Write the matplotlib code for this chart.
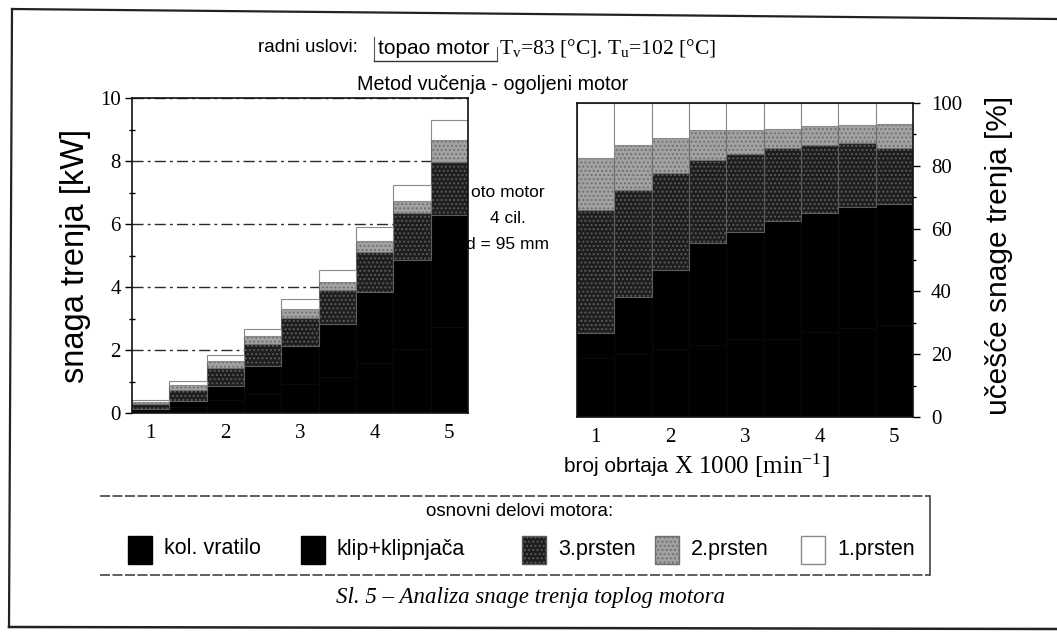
import matplotlib
matplotlib.use('Agg')
import matplotlib.pyplot as plt
import numpy as np
from matplotlib.patches import Rectangle
from matplotlib.lines import Line2D
from matplotlib.ticker import MultipleLocator

plt.rcParams['mathtext.fontset'] = 'custom'
plt.rcParams['mathtext.rm'] = 'Liberation Serif'
plt.rcParams['mathtext.it'] = 'Liberation Serif:italic'
plt.rcParams['hatch.linewidth'] = 0.9

SANS = 'Liberation Sans'
SERIF = 'Liberation Serif'

# ---------------- data ----------------
rpm = [1.0, 1.5, 2.0, 2.5, 3.0, 3.5, 4.0, 4.5, 5.0]          # x 1000 min^-1
total_kw = [0.42, 1.02, 1.85, 2.68, 3.62, 4.55, 5.9, 7.25, 9.3]  # total friction power [kW]

categories = ['kol. vratilo', 'klip+klipnjača', '3.prsten', '2.prsten', '1.prsten']
share_kol = [18.7, 20.0, 21.5, 22.9, 25.0, 25.0, 27.0, 28.2, 29.3]
share_klip = [7.9, 18.3, 25.3, 32.4, 34.0, 37.4, 37.9, 38.8, 38.4]
share_p3 = [39.3, 34.0, 30.8, 26.5, 24.7, 23.2, 21.7, 20.4, 17.9]
share_p2 = [16.5, 14.3, 11.2, 9.6, 7.7, 6.0, 6.1, 5.6, 7.6]
share_p1 = [17.6, 13.4, 11.2, 8.6, 8.6, 8.4, 7.3, 7.0, 6.8]
shares = [share_kol, share_klip, share_p3, share_p2, share_p1]

left_ticks = [0, 2, 4, 6, 8, 10]
right_ticks = [0, 20, 40, 60, 80, 100]
x_ticks = [1, 2, 3, 4, 5]

# ---------------- styles ----------------
faces = ['#000000', '#000000', '#1e1e1e', '#a2a2a2', '#ffffff']
edges = ['#0a0a0a', '#0a0a0a', '#5c5c5c', '#6e6e6e', '#8a8a8a']
hatches = [None, None, '....', '....', None]

W, H = 1057, 632
fig = plt.figure(figsize=(W / 100, H / 100), dpi=100)
fig.patch.set_facecolor('white')


def fx(p):
    return p / W


def fy(p):
    return 1 - p / H


def fline(xs, ys, **kw):
    fig.add_artist(Line2D([fx(v) for v in xs], [fy(v) for v in ys],
                          transform=fig.transFigure, **kw))


axL = fig.add_axes([fx(132), fy(413), (468 - 132) / W, (413 - 98) / H])
axR = fig.add_axes([fx(577), fy(417), (913 - 577) / W, (417 - 103) / H])

botL = np.zeros(len(rpm))
botR = np.zeros(len(rpm))
tot = np.array(total_kw)
for i, (name, sh) in enumerate(zip(categories, shares)):
    sh = np.array(sh)
    kw = tot * sh / 100.0
    axL.bar(rpm, kw, width=0.5, bottom=botL, color=faces[i], edgecolor=edges[i],
            hatch=hatches[i], linewidth=0.8, zorder=3)
    axR.bar(rpm, sh, width=0.5, bottom=botR, color=faces[i], edgecolor=edges[i],
            hatch=hatches[i], linewidth=0.8, zorder=3)
    botL += kw
    botR += sh

# left axes
axL.set_xlim(0.75, 5.25)
axL.set_ylim(0, 10)
axL.set_yticks(left_ticks)
axL.yaxis.set_minor_locator(MultipleLocator(1))
axL.set_xticks(x_ticks)
axL.yaxis.grid(True, which='major', linestyle=(0, (8, 3, 2, 3)), color='#2a2a2a', linewidth=1.0, zorder=0)
axL.set_axisbelow(True)
axL.tick_params(axis='y', which='major', direction='out', length=5, width=1.0, labelsize=15, pad=3)
axL.tick_params(axis='y', which='minor', direction='inout', length=5, width=1.0)
axL.tick_params(axis='x', length=0, labelsize=15, pad=8)
for lab in axL.get_xticklabels() + axL.get_yticklabels():
    lab.set_fontfamily(SERIF)
axL.set_ylabel('snaga trenja [kW]', fontsize=23.5, fontfamily=SANS)
axL.yaxis.set_label_coords(-0.122, 0.5)

# right axes
axR.set_xlim(0.75, 5.25)
axR.set_ylim(0, 100)
axR.set_yticks(right_ticks)
axR.yaxis.set_minor_locator(MultipleLocator(10))
axR.set_xticks(x_ticks)
axR.yaxis.tick_right()
axR.yaxis.set_label_position('right')
axR.tick_params(axis='y', which='major', direction='out', length=5, width=1.0, labelsize=15, pad=8)
axR.tick_params(axis='y', which='minor', direction='inout', length=5, width=1.0)
axR.tick_params(axis='x', length=0, labelsize=15, pad=8)
for lab in axR.get_xticklabels() + axR.get_yticklabels():
    lab.set_fontfamily(SERIF)
axR.set_ylabel('učešće snage trenja [%]', fontsize=21.5, fontfamily=SANS, rotation=90)
axR.yaxis.set_label_coords(1.215, 0.516)

for ax in (axL, axR):
    for s in ax.spines.values():
        s.set_linewidth(1.2)
        s.set_color('#111111')
        s.set_zorder(4)

# x label (right chart)
fig.text(fx(668), fy(466), 'broj obrtaja', fontsize=15, fontfamily=SANS, ha='right', va='center')
fig.text(fx(674), fy(466), r'X 1000 [min$^{\mathregular{-1}}$]', fontsize=18, fontfamily=SERIF,
         ha='left', va='center')

# engine annotation
fig.text(fx(508), fy(192), 'oto motor', fontsize=12.5, fontfamily=SANS, ha='center', va='center')
fig.text(fx(508), fy(218), '4 cil.', fontsize=12.5, fontfamily=SANS, ha='center', va='center')
fig.text(fx(508), fy(244), 'd = 95 mm', fontsize=12.5, fontfamily=SANS, ha='center', va='center')

# titles
fig.text(fx(258), fy(48), 'radni uslovi:', fontsize=13.5, fontfamily=SANS, ha='left', va='center')
fig.text(fx(378), fy(48), 'topao motor', fontsize=15, fontfamily=SANS, ha='left', va='center')
fig.text(fx(499), fy(48), r'T$_{\mathregular{v}}$=83 [°C]. T$_{\mathregular{u}}$=102 [°C]',
         fontsize=15.5, fontfamily=SERIF, ha='left', va='center')
fline([374, 374], [37, 61], color='#555555', lw=0.8)
fline([374, 497], [61, 61], color='#333333', lw=1.0)
fline([497, 497], [47, 61], color='#555555', lw=0.8)
fig.text(fx(493), fy(85), 'Metod vučenja - ogoljeni motor', fontsize=14.2, fontfamily=SANS,
         ha='center', va='center')

# legend box
fline([100, 930], [496, 496], color='#444444', lw=1.2, linestyle=(0, (6, 1.5)))
fline([100, 930], [575, 575], color='#444444', lw=1.2, linestyle=(0, (6, 1.5)))
fline([930, 930], [496, 575], color='#444444', lw=1.2)
fig.text(fx(520), fy(512), 'osnovni delovi motora:', fontsize=13.5, fontfamily=SANS,
         ha='center', va='center')
leg_x = [128, 301, 522, 655, 801]
for i, name in enumerate(categories):
    r = Rectangle((fx(leg_x[i]), fy(564)), 24 / W, 28 / H, transform=fig.transFigure,
                  facecolor=faces[i], edgecolor=edges[i] if i >= 2 else '#000000',
                  hatch=hatches[i], linewidth=1.0)
    fig.add_artist(r)
    fig.text(fx(leg_x[i] + 36), fy(549), name, fontsize=15.5, fontfamily=SANS, ha='left', va='center')

# caption
fig.text(fx(530), fy(598), 'Sl. 5 – Analiza snage trenja toplog motora', fontsize=16.5,
         fontfamily=SERIF, style='italic', ha='center', va='center')

# outer frame
fline([12, 1057], [9, 19], color='#222222', lw=1.6)
fline([12, 9], [9, 627], color='#222222', lw=1.6)
fline([9, 1057], [627, 629], color='#222222', lw=1.8)

fig.savefig('out.png', dpi=100, facecolor='white')
